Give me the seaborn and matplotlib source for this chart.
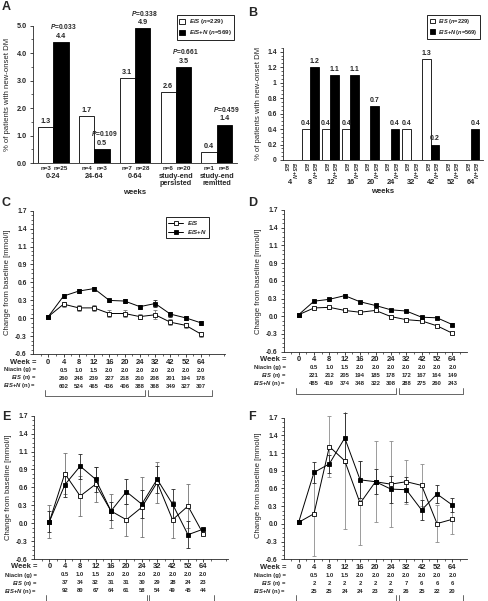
import numpy as np
import pandas as pd
import matplotlib
matplotlib.use("Agg")
import matplotlib.pyplot as plt
import seaborn as sns
from matplotlib.patches import Patch
from matplotlib.lines import Line2D
from matplotlib.ticker import MultipleLocator, FixedLocator

# ---- data: panel A (new-onset DM by period) ----
a_groups = ["0-24", "24-64", "0-64", "study-end\npersisted", "study-end\nremitted"]
a_es = [1.3, 1.7, 3.1, 2.6, 0.4]
a_esn = [4.4, 0.5, 4.9, 3.5, 1.4]
a_n_es = [3, 4, 7, 6, 1]
a_n_esn = [25, 3, 28, 20, 8]
a_p = ["0.033", "0.109", "0.338", "0.661", "0.459"]

# ---- data: panel B (new-onset DM by week) ----
b_weeks = ["4", "8", "12", "16", "20", "24", "32", "42", "52", "64"]
b_es = [0, 0.4, 0.4, 0.4, 0, 0, 0.4, 1.3, 0, 0]
b_esn = [0, 1.2, 1.1, 1.1, 0.7, 0.4, 0, 0.2, 0, 0.4]

# ---- data: panels C-F (change from baseline) ----
weeks = ["0", "4", "8", "12", "16", "20", "24", "32", "42", "52", "64"]
niacin = ["", "0.5", "1.0", "1.5", "2.0", "2.0", "2.0", "2.0", "2.0", "2.0", "2.0"]

c_es = [0, 0.20, 0.14, 0.14, 0.05, 0.05, 0.00, 0.03, -0.09, -0.14, -0.28]
c_esn = [0, 0.33, 0.41, 0.45, 0.26, 0.25, 0.16, 0.21, 0.04, -0.02, -0.10]
c_es_err = [0, 0.04, 0.05, 0.05, 0.05, 0.05, 0.04, 0.07, 0.05, 0.04, 0.04]
c_esn_err = [0, 0.03, 0.03, 0.03, 0.03, 0.03, 0.03, 0.05, 0.04, 0.03, 0.03]
c_n_es = ["", "260", "248", "239", "227", "218", "210", "208", "201", "194", "178"]
c_n_esn = ["", "602", "524", "465", "436", "406", "388", "368", "349", "327", "307"]

d_es = [0, 0.11, 0.12, 0.07, 0.04, 0.07, -0.03, -0.08, -0.10, -0.18, -0.30]
d_esn = [0, 0.22, 0.25, 0.31, 0.21, 0.15, 0.08, 0.06, -0.04, -0.05, -0.16]
d_es_err = [0, 0.02, 0.02, 0.02, 0.02, 0.02, 0.02, 0.02, 0.02, 0.02, 0.02]
d_esn_err = [0, 0.02, 0.02, 0.02, 0.02, 0.02, 0.02, 0.02, 0.02, 0.02, 0.02]
d_n_es = ["", "221", "212", "205", "194", "185", "178", "172", "167", "164", "149"]
d_n_esn = ["", "485", "419", "374", "348", "322", "308", "288", "275", "260", "243"]

e_es = [0, 0.77, 0.41, 0.60, 0.17, 0.03, 0.23, 0.63, 0.03, 0.25, -0.20]
e_esn = [0, 0.59, 0.89, 0.68, 0.17, 0.48, 0.28, 0.68, 0.28, -0.21, -0.12]
e_es_err = [0.27, 0.33, 0.32, 0.28, 0.28, 0.26, 0.48, 0.33, 0.30, 0.36, 0.02]
e_esn_err = [0.17, 0.19, 0.20, 0.20, 0.15, 0.20, 0.22, 0.22, 0.25, 0.22, 0.02]
e_n_es = ["", "37", "34", "32", "31", "31", "30", "29", "28", "24", "23"]
e_n_esn = ["", "92", "80", "67", "64", "61", "58", "54", "49", "45", "44"]

f_es = [0, 0.14, 1.23, 1.00, 0.31, 0.66, 0.62, 0.66, 0.60, -0.02, 0.05]
f_esn = [0, 0.81, 0.95, 1.37, 0.69, 0.66, 0.54, 0.53, 0.20, 0.46, 0.28]
f_es_err = [0, 0.68, 0.50, 1.10, 0.68, 0.66, 0.70, 0.36, 0.34, 0.30, 0.24]
f_esn_err = [0, 0.17, 0.15, 0.40, 0.30, 0.20, 0.22, 0.20, 0.16, 0.15, 0.12]
f_n_es = ["", "2", "2", "2", "2", "2", "2", "7", "6", "6", "6"]
f_n_esn = ["", "25", "25", "24", "24", "23", "22", "26", "25", "22", "20"]

sns.set_style("ticks")
plt.rcParams["font.family"] = ["Liberation Sans", "DejaVu Sans"]
plt.rcParams["font.weight"] = "bold"
plt.rcParams["mathtext.fontset"] = "custom"
plt.rcParams["mathtext.rm"] = "Liberation Sans:bold"
plt.rcParams["mathtext.it"] = "Liberation Sans:italic:bold"
plt.rcParams["mathtext.bf"] = "Liberation Sans:bold"
plt.rcParams["axes.linewidth"] = 0.6

W, H = 488, 601
fig = plt.figure(figsize=(W / 100, H / 100), dpi=100)


def rect(l, t, r, b):
    return [l / W, 1 - b / H, (r - l) / W, (b - t) / H]


pal = {"E/S": "white", "E/S+N": "black"}
leg_bar = [Patch(facecolor="white", edgecolor="black", linewidth=0.6, label=r"$E/S$ ($n$=229)"),
           Patch(facecolor="black", edgecolor="black", linewidth=0.6, label=r"$E/S$+$N$ ($n$=569)")]

# ================= A =================
axA = fig.add_axes(rect(33, 25.7, 237, 163))
dfA = pd.DataFrame({"grp": a_groups * 2, "pct": a_es + a_esn,
                    "arm": ["E/S"] * 5 + ["E/S+N"] * 5})
sns.barplot(data=dfA, x="grp", y="pct", hue="arm", order=a_groups, hue_order=["E/S", "E/S+N"],
            palette=pal, edgecolor="black", linewidth=0.6, width=0.75, legend=False, ax=axA)
axA.set_xlim(-0.5, 4.5)
axA.set_ylim(0, 5)
axA.set_yticks(np.arange(0, 5.01, 1))
axA.set_yticklabels([f"{v:.1f}" for v in np.arange(0, 5.01, 1)], fontsize=5.2)
axA.yaxis.set_minor_locator(MultipleLocator(0.5))
axA.tick_params(axis="y", which="major", length=2.5, width=0.6, pad=2)
axA.tick_params(axis="y", which="minor", length=1.5, width=0.5)
axA.set_xticks(range(5))
axA.set_xticklabels(a_groups, fontsize=5.2, linespacing=1.0)
axA.tick_params(axis="x", length=0, pad=7)
axA.set_xlabel("")
axA.set_ylabel("% of patients with new-onset DM", fontsize=5.6, labelpad=4)
axA.text(0.5, -0.215, "weeks", transform=axA.transAxes, ha="center", va="center", fontsize=5.6)
for i in range(5):
    xe, xn = i - 0.1875, i + 0.1875
    axA.annotate(f"{a_es[i]}", (xe, a_es[i]), xytext=(0, 1.5), textcoords="offset points",
                 ha="center", va="bottom", fontsize=5.2)
    axA.annotate(f"{a_esn[i]}", (xn, a_esn[i]), xytext=(0, 1.5), textcoords="offset points",
                 ha="center", va="bottom", fontsize=5.2)
    axA.annotate(r"$P$=" + a_p[i], (xn, a_esn[i]), xytext=(1.5, 7.8), textcoords="offset points",
                 ha="center", va="bottom", fontsize=4.8, annotation_clip=False)
    axA.annotate(f"n={a_n_es[i]}", (xe, 0), xytext=(0, -2), textcoords="offset points",
                 ha="center", va="top", fontsize=4.5)
    axA.annotate(f"n={a_n_esn[i]}", (xn, 0), xytext=(0, -2), textcoords="offset points",
                 ha="center", va="top", fontsize=4.5)
sns.despine(ax=axA)
lg = axA.legend(handles=leg_bar, loc="upper right", bbox_to_anchor=(1.0, 1.1), fontsize=4.4,
                frameon=True, fancybox=False, edgecolor="black", framealpha=1,
                handlelength=0.9, handleheight=0.9, borderpad=0.4, labelspacing=0.3, handletextpad=0.6)
lg.get_frame().set_linewidth(0.6)

# ================= B =================
axB = fig.add_axes(rect(283, 47.8, 483, 160))
dfB = pd.DataFrame({"wk": b_weeks * 2, "pct": b_es + b_esn,
                    "arm": ["E/S"] * 10 + ["E/S+N"] * 10})
sns.barplot(data=dfB, x="wk", y="pct", hue="arm", order=b_weeks, hue_order=["E/S", "E/S+N"],
            palette=pal, edgecolor="black", linewidth=0.6, width=0.84, legend=False, ax=axB)
axB.set_xlim(-0.35, 9.6)
axB.set_ylim(0, 1.45)
axB.set_yticks(np.arange(0, 1.41, 0.2))
axB.set_yticklabels(["0", "0.2", "0.4", "0.6", "0.8", "1", "1.2", "1.4"], fontsize=4.9)
axB.yaxis.set_minor_locator(MultipleLocator(0.05))
axB.tick_params(axis="y", which="major", length=2.5, width=0.6, pad=2)
axB.tick_params(axis="y", which="minor", length=1.3, width=0.5)
cent = []
labs = []
for i in range(10):
    cent += [i - 0.21, i + 0.21]
    labs += [r"$E/S$", r"$E/S$+$N$"]
axB.set_xticks(cent)
axB.set_xticklabels(labs, rotation=-90, fontsize=3.7)
axB.tick_params(axis="x", length=0, pad=1.5)
axB.set_xlabel("")
axB.set_ylabel("% of patients with new-onset DM", fontsize=5.6, labelpad=4)
for i in range(10):
    axB.annotate(b_weeks[i], (i, 0), xytext=(0, -16), textcoords="offset points",
                 ha="center", va="center", fontsize=5.3, annotation_clip=False)
    for v, xx in ((b_es[i], i - 0.21), (b_esn[i], i + 0.21)):
        if v > 0:
            axB.annotate(f"{v}", (xx, v), xytext=(0, 1.5), textcoords="offset points",
                         ha="center", va="bottom", fontsize=5.0)
axB.text(0.5, -0.285, "weeks", transform=axB.transAxes, ha="center", va="center", fontsize=5.6)
sns.despine(ax=axB)
lg = axB.legend(handles=leg_bar, loc="upper right", bbox_to_anchor=(1.0, 1.32), fontsize=4.1,
                frameon=True, fancybox=False, edgecolor="black", framealpha=1,
                handlelength=0.9, handleheight=0.9, borderpad=0.4, labelspacing=0.3, handletextpad=0.6)
lg.get_frame().set_linewidth(0.6)

# ================= C-F =================
yt = np.linspace(-0.6, 1.7, 9)
ytl = ["-0.6", "-0.3", "0.0", "0.3", "0.6", "0.9", "1.1", "1.4", "1.7"]
pos = np.arange(len(weeks))


def line_panel(r, xlim, ytop, es, esn, es_err, esn_err, n_es, n_esn, es_ecol):
    ax = fig.add_axes(r)
    ax.errorbar(pos, es, yerr=es_err, fmt="none", ecolor=es_ecol, elinewidth=0.6,
                capsize=1.3, capthick=0.6, zorder=2)
    ax.errorbar(pos, esn, yerr=esn_err, fmt="none", ecolor="0.15", elinewidth=0.6,
                capsize=1.3, capthick=0.6, zorder=2)
    sns.lineplot(x=pos, y=es, color="black", linewidth=0.7, marker="s", markersize=3.3,
                 markerfacecolor="white", markeredgecolor="black", markeredgewidth=0.6,
                 ax=ax, zorder=3)
    sns.lineplot(x=pos, y=esn, color="black", linewidth=0.7, marker="s", markersize=3.3,
                 markerfacecolor="black", markeredgecolor="black", markeredgewidth=0.6,
                 ax=ax, zorder=4)
    ax.set_xlim(*xlim)
    ax.set_ylim(-0.6, ytop)
    ax.spines["left"].set_bounds(-0.6, 1.7)
    ax.set_yticks(yt)
    ax.set_yticklabels(ytl, fontsize=4.9)
    ax.yaxis.set_minor_locator(FixedLocator(np.arange(-0.6, 1.71, 0.2875 / 4)))
    ax.tick_params(axis="y", which="major", length=2.5, width=0.6, pad=2)
    ax.tick_params(axis="y", which="minor", length=1.3, width=0.5)
    ax.set_xticks(np.arange(0, 11, 1))
    ax.set_xticklabels([])
    ax.xaxis.set_minor_locator(FixedLocator(np.arange(-0.5, xlim[1], 1.0)))
    ax.tick_params(axis="x", which="major", length=2.2, width=0.6)
    ax.tick_params(axis="x", which="minor", length=1.5, width=0.5)
    ax.set_ylabel("Change from baseline [mmol/l]", fontsize=5.6, labelpad=3)
    sns.despine(ax=ax)
    # table under the axis
    rows = [("Week =", weeks, 5.5, 8), ("Niacin (g) =", niacin, 4.2, 16),
            (r"$E/S$ (n) =", n_es, 4.2, 24), (r"$E/S$+$N$ (n) =", n_esn, 4.2, 32)]
    for lab, vals, fs, dy in rows:
        ax.annotate(lab, (-0.8, -0.6), xytext=(0, -dy * 0.72), textcoords="offset points",
                    ha="right", va="center", fontsize=fs, annotation_clip=False)
        for i, v in enumerate(vals):
            ax.annotate(v, (i, -0.6), xytext=(0, -dy * 0.72), textcoords="offset points",
                        ha="center", va="center", fontsize=fs, annotation_clip=False)
    bb = ax.get_position()
    ppu = bb.height * H / (ytop + 0.6)
    y1 = -0.6 - 36 / ppu
    y2 = -0.6 - 42 / ppu
    for xa, xb in ((-0.2, 6.35), (6.5, 10.7)):
        ax.plot([xa, xa, xb, xb], [y1, y2, y2, y1], color="0.3", linewidth=0.6, clip_on=False)
    return ax


axC = line_panel(rect(33, 210.7, 225.4, 354), (-1, 11.6), 1.7, c_es, c_esn, c_es_err, c_esn_err,
                 c_n_es, c_n_esn, "0.45")
leg_line = [Line2D([0], [0], color="black", linewidth=0.7, marker="s", markersize=3.3,
                   markerfacecolor="white", markeredgewidth=0.6, label=r"$E/S$"),
            Line2D([0], [0], color="black", linewidth=0.7, marker="s", markersize=3.3,
                   markerfacecolor="black", markeredgewidth=0.6, label=r"$E/S$+$N$")]
lg = axC.legend(handles=leg_line, loc="upper right", bbox_to_anchor=(0.93, 0.98), fontsize=4.4,
                frameon=True, fancybox=False, edgecolor="black", framealpha=1,
                handlelength=2.4, borderpad=0.35, labelspacing=0.25, handletextpad=0.6)
lg.get_frame().set_linewidth(0.6)

axD = line_panel(rect(284, 210, 467, 351.7), (-0.95, 10.95), 1.7, d_es, d_esn, d_es_err, d_esn_err,
                 d_n_es, d_n_esn, "0.45")
axE = line_panel(rect(34, 415.7, 228, 559), (-1, 11.6), 1.7, e_es, e_esn, e_es_err, e_esn_err,
                 e_n_es, e_n_esn, "0.45")
axF = line_panel(rect(284, 411.5, 467, 559.3), (-0.95, 10.95), 1.8, f_es, f_esn, f_es_err, f_esn_err,
                 f_n_es, f_n_esn, "0.55")

# panel letters
for t, x, y in (("A", 2, 7), ("B", 248, 13), ("C", 2, 203), ("D", 248, 203), ("E", 2, 417), ("F", 248, 417)):
    fig.text(x / W, 1 - y / H, t, fontsize=9, fontweight="bold", ha="left", va="center")

fig.savefig("out.png", dpi=100)
